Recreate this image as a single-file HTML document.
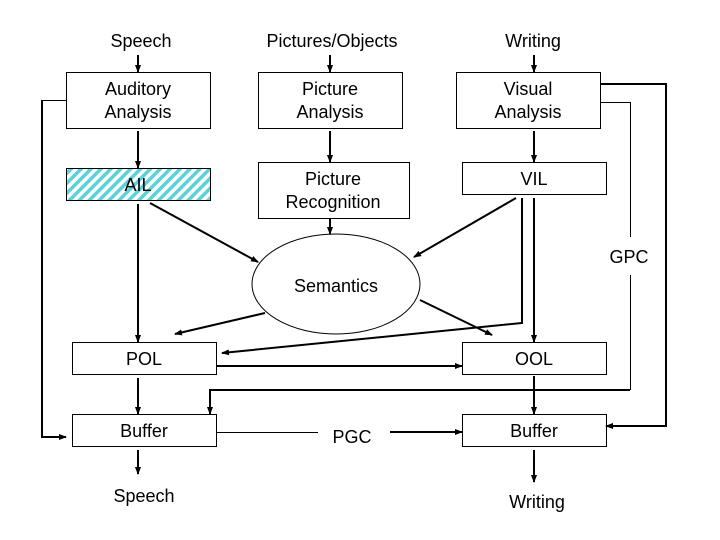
<!DOCTYPE html>
<html><head><meta charset="utf-8"><style>
html,body{margin:0;padding:0;background:#fff;}
svg{display:block;}
text{font-family:"Liberation Sans",Arial,sans-serif;font-size:18px;fill:#000;text-anchor:middle;}
</style></head><body>
<svg width="720" height="540" viewBox="0 0 720 540" xmlns="http://www.w3.org/2000/svg">
<defs>
<marker id="a" markerWidth="8" markerHeight="8" refX="7" refY="4" orient="auto" markerUnits="userSpaceOnUse">
<path d="M0,1 L8,4 L0,7 z" fill="#000"/></marker>
<pattern id="h" width="7" height="7" patternUnits="userSpaceOnUse" patternTransform="rotate(45)">
<rect width="7" height="7" fill="#fff"/><rect width="3.5" height="7" fill="#5bd1d9"/></pattern>
</defs>
<g fill="#fff" stroke="#000" stroke-width="1">
<rect x="66.5" y="72.5" width="144" height="56"/>
<rect x="258.5" y="72.5" width="144" height="56"/>
<rect x="456.5" y="72.5" width="144" height="56"/>
<rect x="66.5" y="168.5" width="144" height="32" fill="url(#h)"/>
<rect x="258.5" y="162.5" width="151" height="56"/>
<rect x="462.5" y="162.5" width="144" height="32"/>
<ellipse cx="336" cy="284" rx="84" ry="50"/>
<rect x="72.5" y="342.5" width="144" height="32"/>
<rect x="462.5" y="342.5" width="144" height="32"/>
<rect x="72.5" y="414.5" width="144" height="32"/>
<rect x="462.5" y="414.5" width="144" height="32"/>
</g>
<g stroke="#000" stroke-width="2" fill="none" marker-end="url(#a)">
<line x1="138" y1="55" x2="138" y2="72"/>
<line x1="330" y1="55" x2="330" y2="72"/>
<line x1="534" y1="55" x2="534" y2="72"/>
<line x1="138" y1="131" x2="138" y2="168"/>
<line x1="330" y1="131" x2="330" y2="162"/>
<line x1="534" y1="131" x2="534" y2="162"/>
<line x1="138" y1="204" x2="138" y2="342"/>
<line x1="150" y1="203" x2="258" y2="262"/>
<line x1="330" y1="218" x2="330" y2="234"/>
<line x1="516" y1="198" x2="414" y2="257"/>
<line x1="534" y1="198" x2="534" y2="342"/>
<line x1="420" y1="300" x2="492" y2="335"/>
<line x1="265" y1="313" x2="175" y2="334"/>
<polyline points="522,198 522,323 222,353"/>
<line x1="216" y1="366" x2="462" y2="366"/>
<line x1="138" y1="378" x2="138" y2="414"/>
<line x1="138" y1="450" x2="138" y2="474"/>
<line x1="534" y1="376" x2="534" y2="414"/>
<line x1="534" y1="450" x2="534" y2="482"/>
<line x1="390" y1="432" x2="462" y2="432"/>
<polyline points="42,100 42,437 66,437" stroke-width="2"/>
<polyline points="600,84 666,84 666,426 606,426" stroke-width="2"/>
<polyline points="630,390 210,390 210,414" stroke-width="2"/>
</g>
<g stroke="#000" stroke-width="1" fill="none">
<line x1="42" y1="100.5" x2="66" y2="100.5"/>
<polyline points="600,102.5 630.5,102.5 630.5,237"/>
<line x1="630.5" y1="275" x2="630.5" y2="390"/>
<line x1="216" y1="432.5" x2="318" y2="432.5"/>
</g>
<text x="141" y="47">Speech</text>
<text x="332" y="47">Pictures/Objects</text>
<text x="533" y="47">Writing</text>
<text x="138" y="95">Auditory</text><text x="138" y="118">Analysis</text>
<text x="330" y="95">Picture</text><text x="330" y="118">Analysis</text>
<text x="528" y="95">Visual</text><text x="528" y="118">Analysis</text>
<text x="138" y="191">AIL</text>
<text x="333" y="185">Picture</text><text x="333" y="208">Recognition</text>
<text x="534" y="185">VIL</text>
<text x="336" y="292">Semantics</text>
<text x="629" y="263">GPC</text>
<text x="144" y="365">POL</text>
<text x="534" y="365">OOL</text>
<text x="144" y="437">Buffer</text>
<text x="352" y="443">PGC</text>
<text x="534" y="437">Buffer</text>
<text x="144" y="502">Speech</text>
<text x="537" y="508">Writing</text>
</svg>
</body></html>
